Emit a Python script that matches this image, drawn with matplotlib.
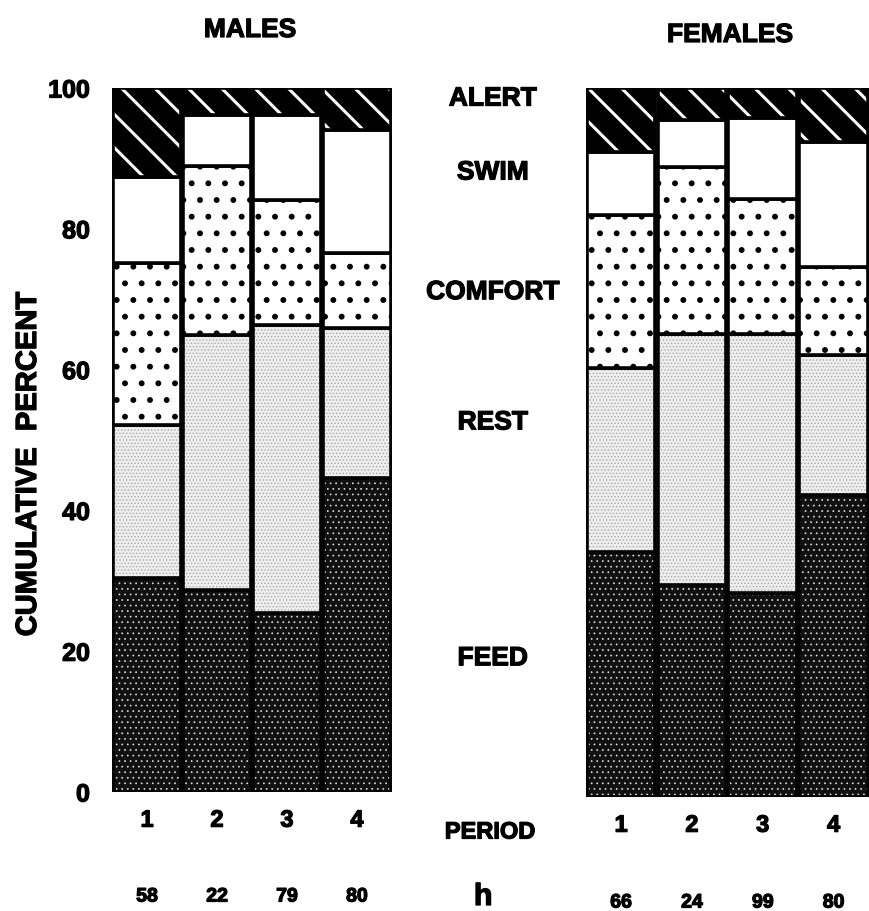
import numpy as np
import matplotlib
matplotlib.use('Agg')
import matplotlib.pyplot as plt
from matplotlib import transforms
import matplotlib.patheffects as pe

plt.rcParams['font.family'] = ['Liberation Sans', 'DejaVu Sans']
plt.rcParams['font.weight'] = 'bold'

periods = ['1', '2', '3', '4']
categories = ['FEED', 'REST', 'COMFORT', 'SWIM', 'ALERT']

# percent of time per behaviour, per period
males = {
    'FEED':    [30.4, 28.7, 25.4, 44.6],
    'REST':    [21.7, 36.2, 40.9, 21.3],
    'COMFORT': [23.0, 24.0, 17.8, 10.7],
    'SWIM':    [12.3, 7.3, 12.1, 17.4],
    'ALERT':   [12.6, 3.8, 3.8, 6.0],
}
females = {
    'FEED':    [34.6, 29.9, 28.8, 42.6],
    'REST':    [25.9, 35.4, 36.5, 19.7],
    'COMFORT': [21.6, 23.6, 19.0, 12.5],
    'SWIM':    [8.9, 6.6, 11.5, 17.6],
    'ALERT':   [9.0, 4.5, 4.2, 7.6],
}
n_males = ['58', '22', '79', '80']
n_females = ['66', '24', '99', '80']

# face colour, hatch colour, hatch pattern, hatch linewidth
styles = {
    'FEED':    ('#111111', '#dddddd', '...', 0.5),
    'REST':    ('#eeeeee', '#a8a8a8', '.....', 0.6),
    'COMFORT': ('white', 'black', '.', 1.8),
    'SWIM':    ('white', 'white', None, 1.0),
    'ALERT':   ('black', 'white', '\\', 2.2),
}
# label height (percent) in the middle column
label_y = {'ALERT': 98.5, 'SWIM': 88, 'COMFORT': 71, 'REST': 52.5, 'FEED': 19}

heavy = [pe.withStroke(linewidth=0.9, foreground='black')]

fig = plt.figure(figsize=(8.69, 9.11), dpi=100)
ax1 = fig.add_axes([0.129, 0.1306, 0.322, 0.7728])
ax2 = fig.add_axes([0.674, 0.1251, 0.326, 0.7783])

x = np.arange(1, 5)
w = 0.97


def draw_panel(ax, data):
    bottom = np.zeros(4)
    for cat in categories:
        vals = np.array(data[cat])
        fc, hc, hatch, hlw = styles[cat]
        with plt.rc_context({'hatch.linewidth': hlw}):
            ax.bar(x, vals, w, bottom=bottom, color=fc, edgecolor=hc,
                   hatch=hatch, linewidth=0)
        ax.bar(x, vals, w, bottom=bottom, fill=False, edgecolor='black',
               linewidth=2.6)
        bottom += vals
    ax.set_xlim(0.5, 4.5)
    ax.set_ylim(0, 100)
    for s in ax.spines.values():
        s.set_visible(False)
    ax.set_xticks(x)
    ax.set_xticklabels(periods, fontsize=17, fontweight='bold')
    for t in ax.get_xticklabels():
        t.set_path_effects(heavy)
    ax.tick_params(axis='x', length=0, pad=12)


draw_panel(ax1, males)
draw_panel(ax2, females)

ax1.set_yticks(np.arange(0, 101, 20))
ax1.set_yticklabels([str(v) for v in range(0, 101, 20)], fontsize=18,
                    fontweight='bold')
for t in ax1.get_yticklabels():
    t.set_path_effects(heavy)
ax1.tick_params(axis='y', length=0, pad=16)
ax2.set_yticks([])

fig.text(28 / 869, 1 - 464 / 911, 'CUMULATIVE  PERCENT', rotation=90,
         ha='center', va='center', fontsize=21, fontweight='bold',
         path_effects=heavy)

fig.text(250 / 869, 1 - 30 / 911, 'MALES', ha='center', va='center',
         fontsize=19, fontweight='bold', path_effects=heavy)
fig.text(730 / 869, 1 - 35 / 911, 'FEMALES', ha='center', va='center',
         fontsize=19, fontweight='bold', path_effects=heavy)

# behaviour labels between the panels
for cat in categories:
    y_fig = ax1.transData.transform((0, label_y[cat]))[1] / fig.bbox.height
    fig.text(0.567, y_fig, cat, ha='center', va='center', fontsize=19,
             fontweight='bold', path_effects=heavy)

fig.text(0.564, 1 - 832 / 911, 'PERIOD', ha='center', va='center',
         fontsize=17, fontweight='bold', path_effects=heavy)
fig.text(0.556, 1 - 897 / 911, 'h', ha='center', va='center',
         fontsize=22, fontweight='bold', path_effects=heavy)

tr1 = transforms.blended_transform_factory(ax1.transData, fig.transFigure)
for xi, n in zip(x, n_males):
    ax1.text(xi, 1 - 897 / 911, n, transform=tr1, ha='center', va='center',
             fontsize=14, fontweight='bold', path_effects=heavy)
tr2 = transforms.blended_transform_factory(ax2.transData, fig.transFigure)
for xi, n in zip(x, n_females):
    ax2.text(xi, 1 - 903 / 911, n, transform=tr2, ha='center', va='center',
             fontsize=14, fontweight='bold', path_effects=heavy)

fig.savefig('out.png', dpi=100)
